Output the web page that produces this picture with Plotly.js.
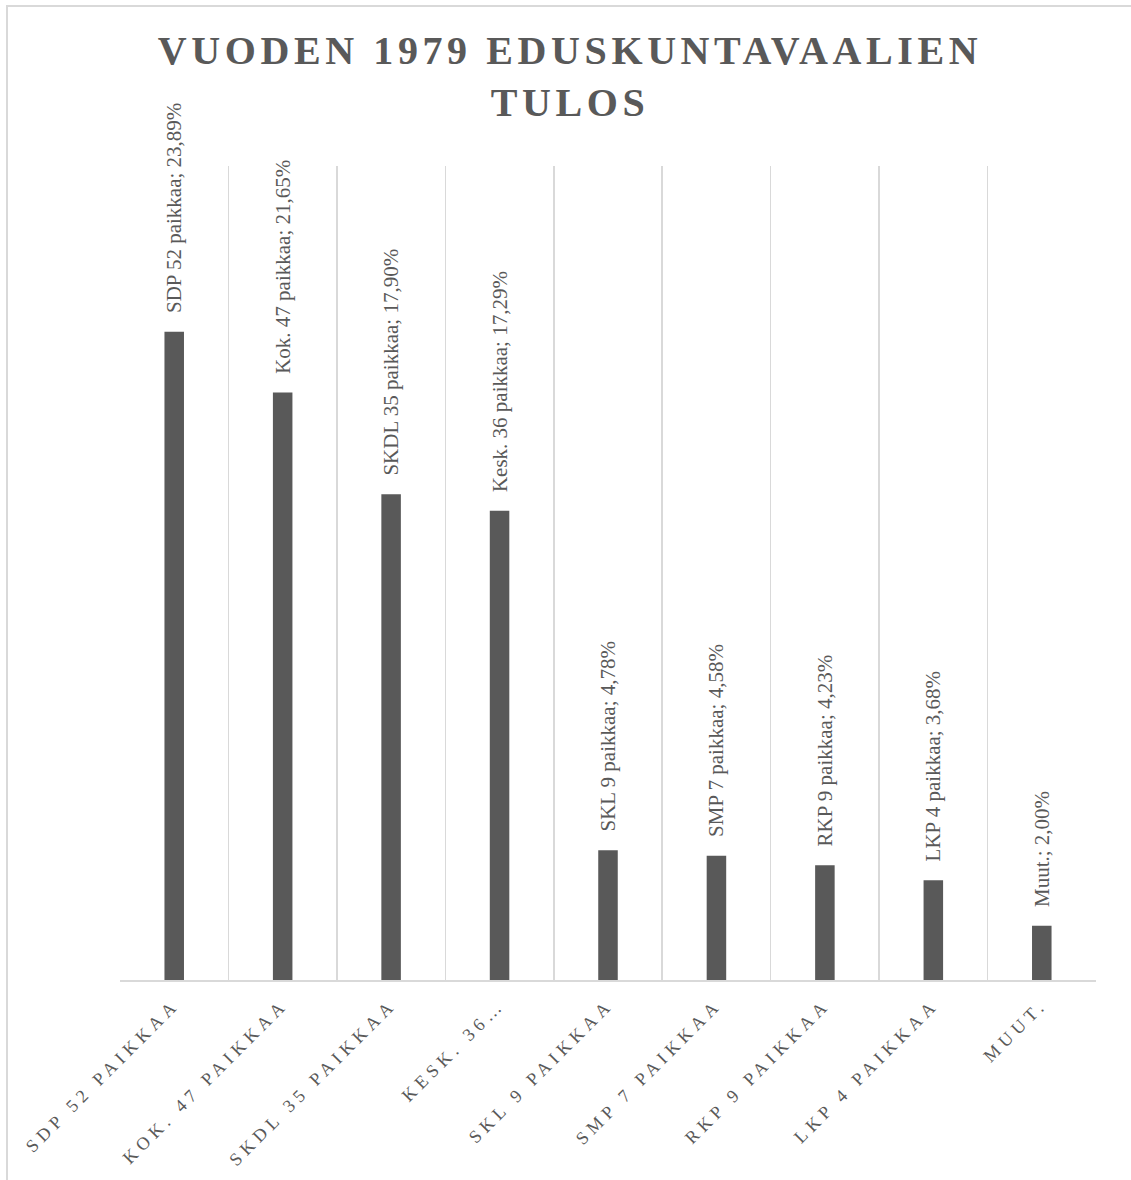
<!DOCTYPE html>
<html>
<head>
<meta charset="utf-8">
<script src="https://cdn.plot.ly/plotly-3.0.1.min.js"></script>
<style>
  html, body { margin: 0; padding: 0; background: #ffffff; }
  #frame { position: absolute; left: 6px; top: 5px; width: 1300px; height: 1300px; border: 2px solid #d9d9d9; box-sizing: border-box; }
  #chart { position: absolute; left: 0; top: 0; width: 1131px; height: 1180px; }
  #chart .gtitle { letter-spacing: 4.6px; }
  #chart .xtick text { letter-spacing: 5px; }
</style>
</head>
<body>
<div id="frame"></div>
<div id="chart"></div>
<script>
const categories = ["SDP 52 paikkaa", "Kok. 47 paikkaa", "SKDL 35 paikkaa", "Kesk. 36 paikkaa", "SKL 9 paikkaa", "SMP 7 paikkaa", "RKP 9 paikkaa", "LKP 4 paikkaa", "Muut."];
const tickLabels = ["SDP 52 paikkaa", "Kok. 47 paikkaa", "SKDL 35 paikkaa", "Kesk. 36…", "SKL 9 paikkaa", "SMP 7 paikkaa", "RKP 9 paikkaa", "LKP 4 paikkaa", "Muut."];
const voteShare = [23.89, 21.65, 17.90, 17.29, 4.78, 4.58, 4.23, 3.68, 2.00];

const labels = categories.map((c, i) => c + "; " + voteShare[i].toFixed(2).replace(".", ",") + "%");

const SERIF = "'Liberation Serif', 'Times New Roman', Times, serif";

const trace = {
  type: "bar",
  x: categories,
  y: voteShare,
  text: labels,
  texttemplate: "\u00a0\u00a0\u00a0%{text}",
  textposition: "outside",
  textangle: -90,
  constraintext: "none",
  cliponaxis: false,
  width: 0.18,
  marker: { color: "#595959" },
  textfont: { family: SERIF, size: 21, color: "#595959" },
  hoverinfo: "none"
};

const layout = {
  width: 1131,
  height: 1180,
  margin: { l: 120, r: 35, t: 166, b: 200, autoexpand: false },
  paper_bgcolor: "rgba(0,0,0,0)",
  plot_bgcolor: "rgba(0,0,0,0)",
  showlegend: false,
  font: { family: SERIF, color: "#595959" },
  title: {
    text: "VUODEN 1979 EDUSKUNTAVAALIEN<br>TULOS",
    x: 0.504,
    xref: "container",
    xanchor: "center",
    y: 0.9455,
    yref: "container",
    yanchor: "top",
    font: { family: SERIF, size: 40, color: "#595959", weight: "bold" }
  },
  xaxis: {
    type: "category",
    tickvals: categories,
    ticktext: tickLabels,
    tickson: "boundaries",
    showgrid: true,
    gridcolor: "#d9d9d9",
    gridwidth: 1.5,
    showline: true,
    linecolor: "#d9d9d9",
    linewidth: 2,
    ticks: "",
    tickangle: -45,
    ticklabelstandoff: 5,
    automargin: false,
    range: [-0.5, 8.5],
    tickfont: { family: SERIF, size: 18, color: "#595959", textcase: "upper" }
  },
  yaxis: {
    range: [0, 30],
    visible: false,
    showgrid: false,
    zeroline: false
  }
};

Plotly.newPlot("chart", [trace], layout, { displayModeBar: false, staticPlot: true });
</script>
</body>
</html>
